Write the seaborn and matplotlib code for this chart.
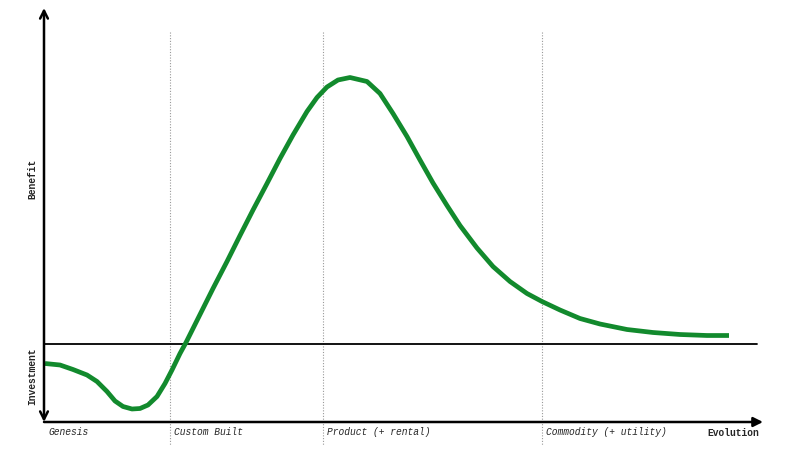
import pandas as pd
import matplotlib
matplotlib.use("Agg")
import matplotlib.pyplot as plt
import seaborn as sns

# Curve (x: evolution, y: benefit above / investment below 0)
evolution = [1, 16, 29, 43, 53, 63, 71, 79, 88, 96, 104, 113, 121, 128, 136,
             142, 156, 169, 183, 196, 209, 223, 236, 249, 263, 273, 283, 294,
             306, 323, 336, 349, 363, 376, 389, 403, 416, 433, 449, 466, 483,
             498, 516, 536, 556, 583, 609, 636, 663, 685]
benefit = [-20, -21.5, -26, -31.5, -38, -48, -57.5, -63, -65.5, -65, -61.5, -53,
           -40, -26.5, -10, 1, 29, 55, 82, 108, 133.5, 160, 185, 208.5, 232,
           246, 256.5, 263.5, 266, 262, 250, 230, 207, 183.5, 160.5, 138, 118,
           95.5, 77, 62, 50, 42, 33.5, 25, 19.5, 14, 11, 9, 8, 8]

stage_x = [0, 126, 279, 498]
stage_labels = ["Genesis", "Custom Built", "Product (+ rental)", "Commodity (+ utility)"]

df = pd.DataFrame({"evolution": evolution, "benefit": benefit})

sns.set_style("white")
plt.rcParams["font.family"] = ["Liberation Mono", "DejaVu Sans Mono"]

fig = plt.figure(figsize=(8, 4.5), dpi=100)
ax = fig.add_axes([0, 0, 1, 1])
ax.set_xlim(-44, 756)
ax.set_ylim(-106.5, 343.5)
ax.axis("off")

# dotted stage separators
for x in stage_x[1:]:
    ax.plot([x, x], [311.5, -101.5], ls=(0, (1, 1.5)), color="#999999", lw=0.8)

# break-even line
ax.plot([0, 713], [0, 0], color="black", lw=1.3)

# the curve
sns.lineplot(data=df, x="evolution", y="benefit", ax=ax, color="#128a2d",
             lw=3.4, solid_capstyle="butt", solid_joinstyle="round", sort=False)

# axes with arrows
ax.annotate("", xy=(0, 335.5), xytext=(0, -78.5),
            arrowprops=dict(arrowstyle="<->", lw=1.8, color="black",
                            mutation_scale=14, shrinkA=0, shrinkB=0))
ax.annotate("", xy=(719, -78.5), xytext=(0, -78.5),
            arrowprops=dict(arrowstyle="-|>", lw=1.8, color="black",
                            mutation_scale=14, shrinkA=0, shrinkB=0))

# labels
for x, lab in zip(stage_x, stage_labels):
    ax.text(x + 4, -88.5, lab, fontsize=6.9, style="italic", ha="left", va="center")
ax.text(715, -89.5, "Evolution", fontsize=6.9, weight="bold", ha="right", va="center")
ax.text(-12, 165, "Benefit", fontsize=6.9, weight="bold", rotation=90,
        ha="center", va="center")
ax.text(-12, -33, "Investment", fontsize=6.9, weight="bold", rotation=90,
        ha="center", va="center")
ax.set_xlabel("")
ax.set_ylabel("")

fig.savefig("out.png", dpi=100)
